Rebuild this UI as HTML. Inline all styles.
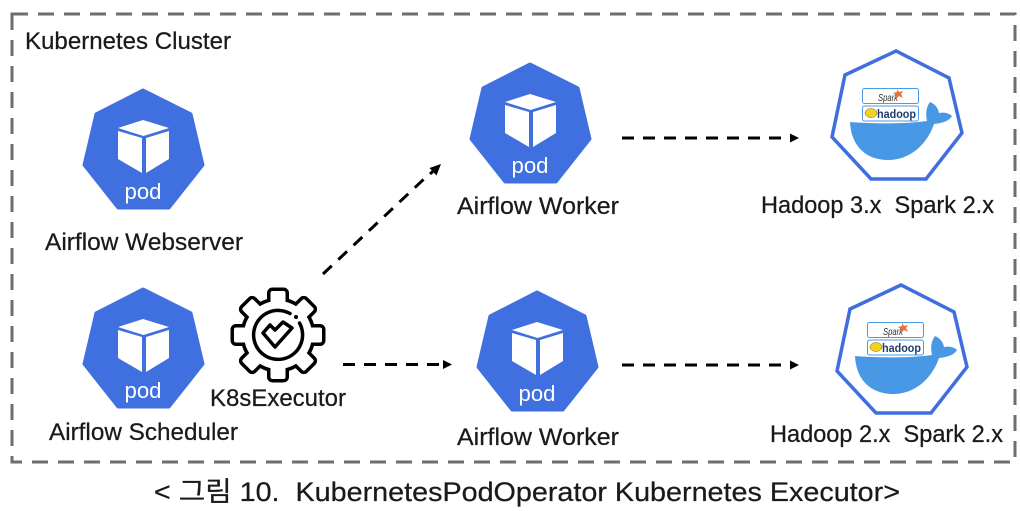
<!DOCTYPE html>
<html><head><meta charset="utf-8"><style>
html,body{margin:0;padding:0;background:#fff}
svg{display:block}
text{font-family:"Liberation Sans","Noto Sans CJK KR",sans-serif;fill:#1a1a1a;white-space:pre;stroke:#1a1a1a;stroke-width:.25}
</style></head><body>
<svg width="1020" height="511" viewBox="0 0 1020 511" xmlns="http://www.w3.org/2000/svg">
<defs>
<g id="pod">
<polygon points="143,90 191,114 203,165 169,208 118,208 84,165 96,114" fill="#4070e0" stroke="#4070e0" stroke-width="3" stroke-linejoin="round"/>
<polygon points="143,120 169,128 143.500,136 118,128" fill="#fff"/>
<polygon points="118,131 142,138 142,173 118,159" fill="#fff"/>
<polygon points="146,138 169,131 169,159 146,173" fill="#fff"/>
<text x="143" y="199" font-size="22" text-anchor="middle" style="fill:#fff;stroke:none" textLength="37" lengthAdjust="spacingAndGlyphs">pod</text>
</g>
<g id="dock">
<polygon points="896,51 845,75 832,137 871,179 926,179 962,133 949,78" fill="#fff" stroke="#3f6fdf" stroke-width="3.500"/>
<path d="M850,122 C875,124 905,124 927,121 C925,112 927,106 930,102 C935,104 938,108 939,113 C944,112 949,113 952,116 C949,121 943,123 934,124 C928,142 912,160 888,160 C865,160 851,145 850,122Z" fill="#4898e6"/>
<rect x="862.500" y="88.500" width="56" height="15" rx="2" fill="#fff" stroke="#4b9be8"/>
<rect x="862.500" y="106" width="56" height="15" rx="2" fill="#fff" stroke="#4b9be8"/>
<text x="878" y="101" font-size="10" font-style="italic" textLength="20" lengthAdjust="spacingAndGlyphs" style="fill:#333;stroke:none">Spark</text>
<polygon points="897,89 899,92 903,91 901,94 903,98 899,96 896,99 896,95 893,93 897,92" fill="#e8703a"/>
<ellipse cx="871" cy="113" rx="6" ry="4.500" fill="#f2d21e" stroke="#7a6a10" stroke-width=".5"/>
<text x="877" y="118" font-size="12" font-weight="bold" textLength="39" lengthAdjust="spacingAndGlyphs" style="fill:#1d3c6e;stroke:none">hadoop</text>
</g>
<g id="tooth"><rect x="-7.500" y="-44" width="15" height="20" rx="2"/></g>
</defs>

<rect x="12" y="14" width="1003" height="448" fill="none" stroke="#6a6f74" stroke-width="3" stroke-dasharray="16 10"/>

<text x="25" y="49" font-size="24" textLength="206" lengthAdjust="spacingAndGlyphs">Kubernetes Cluster</text>

<use href="#pod"/>
<use href="#pod" transform="translate(0 199)"/>
<use href="#pod" transform="translate(387 -26)"/>
<use href="#pod" transform="translate(394 202)"/>
<use href="#dock"/>
<use href="#dock" transform="translate(5 234)"/>

<text x="45" y="250" font-size="24" textLength="198" lengthAdjust="spacingAndGlyphs">Airflow Webserver</text>
<text x="49" y="440" font-size="24" textLength="189" lengthAdjust="spacingAndGlyphs">Airflow Scheduler</text>
<text x="457" y="214" font-size="24" textLength="162" lengthAdjust="spacingAndGlyphs">Airflow Worker</text>
<text x="457" y="445" font-size="24" textLength="162" lengthAdjust="spacingAndGlyphs">Airflow Worker</text>
<text x="210" y="406" font-size="24" textLength="136" lengthAdjust="spacingAndGlyphs">K8sExecutor</text>
<text x="761" y="213" font-size="24" textLength="233" lengthAdjust="spacingAndGlyphs">Hadoop 3.x  Spark 2.x</text>
<text x="770" y="442" font-size="24" textLength="233" lengthAdjust="spacingAndGlyphs">Hadoop 2.x  Spark 2.x</text>
<text x="154" y="501" font-size="27" textLength="746" lengthAdjust="spacingAndGlyphs">&lt; 그림 10.  KubernetesPodOperator Kubernetes Executor&gt;</text>

<!-- gear -->
<g transform="translate(278 335)">
<g fill="#000" stroke="#000" stroke-width="7" stroke-linejoin="round">
<use href="#tooth"/><use href="#tooth" transform="rotate(45)"/><use href="#tooth" transform="rotate(90)"/><use href="#tooth" transform="rotate(135)"/><use href="#tooth" transform="rotate(180)"/><use href="#tooth" transform="rotate(225)"/><use href="#tooth" transform="rotate(270)"/><use href="#tooth" transform="rotate(315)"/>
<circle r="34"/>
</g>
<g fill="#fff">
<use href="#tooth"/><use href="#tooth" transform="rotate(45)"/><use href="#tooth" transform="rotate(90)"/><use href="#tooth" transform="rotate(135)"/><use href="#tooth" transform="rotate(180)"/><use href="#tooth" transform="rotate(225)"/><use href="#tooth" transform="rotate(270)"/><use href="#tooth" transform="rotate(315)"/>
<circle r="34"/>
</g>
<path d="M12,-21.500 A24.500,24.500 0 1 0 21.500,-12" fill="none" stroke="#000" stroke-width="3.500" stroke-linecap="round"/>
<circle cx="18" cy="-18" r="2" fill="#000"/>
<path d="M-15,-2 L-3,12 L14,-7 L5,-13 L-3,-5 L-8,-10 Z" fill="none" stroke="#000" stroke-width="3.500" stroke-linejoin="round"/>
</g>

<!-- arrows -->
<g stroke="#000" stroke-width="3" fill="none" stroke-dasharray="12 9">
<line x1="323" y1="274" x2="424" y2="179"/>
<line x1="343" y1="364.500" x2="443" y2="364.500"/>
<line x1="622" y1="138" x2="790" y2="138"/>
<line x1="622" y1="365" x2="790" y2="365"/>
</g>
<line x1="430" y1="174" x2="435" y2="169.500" stroke="#000" stroke-width="3"/>
<polygon points="441,164 436.500,175.500 429.500,168" fill="#000"/>
<polygon points="452,364.500 443,360 443,369" fill="#000"/>
<polygon points="799,138 790,133.500 790,142.500" fill="#000"/>
<polygon points="799,365 790,360.500 790,369.500" fill="#000"/>
</svg>
</body></html>
